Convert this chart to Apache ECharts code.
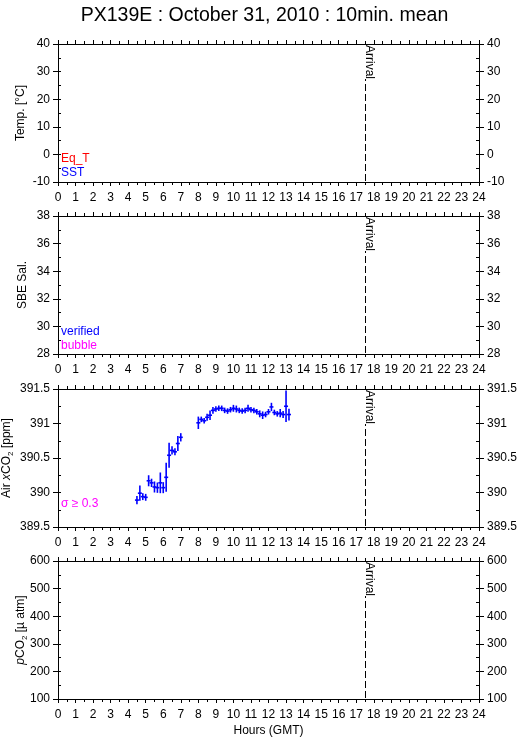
<!DOCTYPE html>
<html><head><meta charset="utf-8">
<script src="https://cdn.jsdelivr.net/npm/echarts@6/dist/echarts.min.js"></script>
<style>html,body{margin:0;padding:0;background:#fff}#c{width:529px;height:739px}</style>
</head><body><div id="c"></div>
<script>
// ---------------- data ----------------
const titleText = 'PX139E : October 31, 2010 : 10min. mean';
const xMin = 0, xMax = 24, xInterval = 1;
const arrivalHour = 17.5;
const arrivalLabel = 'Arrival';

const yMins = [-10, 28, 389.5, 100];
const yMaxs = [40, 38, 391.5, 600];
const yIntervals = [10, 2, 0.5, 100];

// Air xCO2 10-min means (hours GMT), values (ppm) and standard deviation
const co2Hours = [4.5, 4.667, 4.833, 5.0, 5.167, 5.333, 5.5, 5.667, 5.833, 6.0, 6.167, 6.333, 6.5, 6.667, 6.833, 7.0,
  8.0, 8.167, 8.333, 8.5, 8.667, 8.833, 9.0, 9.167, 9.333, 9.5, 9.667, 9.833, 10.0, 10.167, 10.333, 10.5,
  10.667, 10.833, 11.0, 11.167, 11.333, 11.5, 11.667, 11.833, 12.0, 12.167, 12.333, 12.5, 12.667, 12.833, 13.0, 13.167];
const co2Values = [389.89, 389.99, 389.94, 389.93, 390.17, 390.14, 390.08, 390.07, 390.14, 390.07, 390.22, 390.54, 390.61, 390.59, 390.71, 390.80,
  391.01, 391.06, 391.04, 391.09, 391.12, 391.19, 391.21, 391.22, 391.22, 391.19, 391.18, 391.20, 391.22, 391.21, 391.19, 391.18,
  391.19, 391.22, 391.20, 391.19, 391.17, 391.14, 391.12, 391.13, 391.17, 391.24, 391.16, 391.14, 391.15, 391.13, 391.25, 391.13];
const co2Sigma = [0.06, 0.11, 0.05, 0.05, 0.08, 0.06, 0.08, 0.075, 0.15, 0.08, 0.21, 0.18, 0.06, 0.05, 0.11, 0.06,
  0.09, 0.04, 0.04, 0.05, 0.07, 0.05, 0.04, 0.04, 0.04, 0.04, 0.04, 0.04, 0.05, 0.05, 0.04, 0.04,
  0.04, 0.05, 0.04, 0.04, 0.04, 0.05, 0.055, 0.04, 0.04, 0.06, 0.04, 0.04, 0.06, 0.05, 0.23, 0.085];
const sigmaFlag = 0.3;

// ---------------- layout / style ----------------
const FONT = '"Liberation Sans", Arial, Helvetica, sans-serif';
const panelTops = [44, 216, 389, 561];
const panelHeight = 138;
const nameGaps = [29, 27, 43, 29];
const rich = {
  n: {fontSize: 12, fontFamily: FONT, color: '#000', lineHeight: 14, verticalAlign: 'top'},
  i: {fontSize: 12, fontFamily: FONT, color: '#000', lineHeight: 14, verticalAlign: 'top', fontStyle: 'italic'},
  s: {fontSize: 8, fontFamily: FONT, color: '#000', lineHeight: 8, verticalAlign: 'bottom'}
};
const yNames = [
  '{n|Temp. [°C]}',
  '{n|SBE Sal.}',
  '{n|Air }{i|x}{n|CO}{s|2}{n| [ppm]}',
  '{i|p}{n|CO}{s|2}{n| [µ atm]}'
];

const black = {color: '#000', width: 1};
const grids = [], xAxes = [], yAxes = [], series = [];

function renderArrival(params, api) {
  const cs = params.coordSys;
  const p = api.coord([api.value(0), api.value(1)]);
  const x = Math.round(p[0]) + 0.5;
  return {type: 'group', children: [
    {type: 'line', shape: {x1: x, y1: cs.y, x2: x, y2: cs.y + cs.height},
     style: {stroke: '#000', lineWidth: 1, lineDash: [7, 3]}},
    {type: 'text', x: x - 2, y: cs.y + 1, rotation: -Math.PI / 2,
     style: {text: arrivalLabel, fill: '#000', font: '12px ' + FONT,
             align: 'left', verticalAlign: 'bottom', textAlign: 'left', textVerticalAlign: 'bottom',
             backgroundColor: '#fff'}}
  ]};
}

function renderErr(params, api) {
  const x = api.value(0), v = api.value(1), s = api.value(2);
  const a = api.coord([x, v + s]), b = api.coord([x, v - s]), m = api.coord([x, v]);
  const col = s >= sigmaFlag ? '#ff00ff' : '#0000ff';
  const st = {stroke: col, lineWidth: 1.6};
  return {type: 'group', children: [
    {type: 'line', shape: {x1: a[0], y1: a[1], x2: b[0], y2: b[1]}, style: st},
    {type: 'line', shape: {x1: m[0] - 2, y1: m[1], x2: m[0] + 2, y2: m[1]}, style: st}
  ]};
}

for (let i = 0; i < 4; i++) {
  const g = grids.length;
  grids.push({left: 58, right: 50, top: panelTops[i], height: panelHeight, containLabel: false, outerBoundsMode: 'none'});
  const xb = xAxes.length;
  xAxes.push({gridIndex: g, type: 'value', min: xMin, max: xMax, interval: xInterval, position: 'bottom',
    axisLine: {onZero: false, lineStyle: black},
    axisTick: {length: 4, lineStyle: black},
    minorTick: {show: true, splitNumber: 2, length: 3, lineStyle: black},
    splitLine: {show: false},
    axisLabel: {margin: 10, fontSize: 12, fontFamily: FONT, color: '#000'},
    name: i === 3 ? 'Hours (GMT)' : '', nameLocation: 'middle', nameGap: 26, nameMoveOverlap: false,
    nameTextStyle: {fontSize: 12, fontFamily: FONT, color: '#000'}});
  xAxes.push({gridIndex: g, type: 'value', min: xMin, max: xMax, interval: xInterval, position: 'top',
    axisLine: {onZero: false, lineStyle: black},
    axisTick: {length: 4, lineStyle: black},
    minorTick: {show: true, splitNumber: 2, length: 3, lineStyle: black},
    splitLine: {show: false}, axisLabel: {show: false}});
  const yl = yAxes.length;
  const lab = {margin: 8, fontSize: 12, fontFamily: FONT, color: '#000'};
  yAxes.push({gridIndex: g, type: 'value', min: yMins[i], max: yMaxs[i], interval: yIntervals[i], position: 'left',
    axisLine: {onZero: false, lineStyle: black}, axisTick: {length: 5, lineStyle: black},
    splitLine: {show: false}, axisLabel: lab,
    name: yNames[i], nameLocation: 'middle', nameGap: nameGaps[i], nameMoveOverlap: false,
    nameTextStyle: {fontSize: 12, fontFamily: FONT, color: '#000', rich: rich}});
  yAxes.push({gridIndex: g, type: 'value', min: yMins[i], max: yMaxs[i], interval: yIntervals[i], position: 'right',
    axisLine: {onZero: false, lineStyle: black}, axisTick: {length: 5, lineStyle: black},
    splitLine: {show: false}, axisLabel: lab});
  // overlay grid for inward minor ticks on the y axes
  const g2 = grids.length;
  grids.push({left: 58, right: 50, top: panelTops[i], height: panelHeight, containLabel: false, outerBoundsMode: 'none'});
  xAxes.push({gridIndex: g2, type: 'value', min: xMin, max: xMax, show: false});
  ['left', 'right'].forEach(pos => yAxes.push({gridIndex: g2, type: 'value', min: yMins[i], max: yMaxs[i],
    interval: yIntervals[i] / 2, position: pos, axisLine: {show: false},
    axisTick: {inside: true, length: 3, lineStyle: black}, axisLabel: {show: false}, splitLine: {show: false}}));

  series.push({type: 'custom', xAxisIndex: xb, yAxisIndex: yl, renderItem: renderArrival,
    data: [[arrivalHour, yMins[i]]], silent: true, z: 3, clip: false});
  if (i === 2) {
    series.push({type: 'custom', xAxisIndex: xb, yAxisIndex: yl, renderItem: renderErr,
      data: co2Hours.map((h, k) => [h, co2Values[k], co2Sigma[k]]), z: 4});
  }
}

const legendText = (txt, col, left, top) => ({type: 'text', left: left, top: top,
  style: {text: txt, fill: col, font: '12px ' + FONT}});

const option = {
  animation: false,
  backgroundColor: '#fff',
  title: {text: titleText, left: 'center', top: 1,
    textStyle: {fontSize: 19.5, fontWeight: 'normal', fontFamily: FONT, color: '#000'}},
  grid: grids, xAxis: xAxes, yAxis: yAxes, series: series,
  graphic: [
    legendText('Eq_T', '#ff0000', 61, 153),
    legendText('SST', '#0000ff', 61, 167),
    legendText('verified', '#0000ff', 61, 326),
    legendText('bubble', '#ff00ff', 61, 340),
    legendText('σ ≥ 0.3', '#ff00ff', 61, 498)
  ]
};
const chart = echarts.init(document.getElementById('c'), null, {renderer: 'canvas'});
chart.setOption(option);
</script></body></html>
